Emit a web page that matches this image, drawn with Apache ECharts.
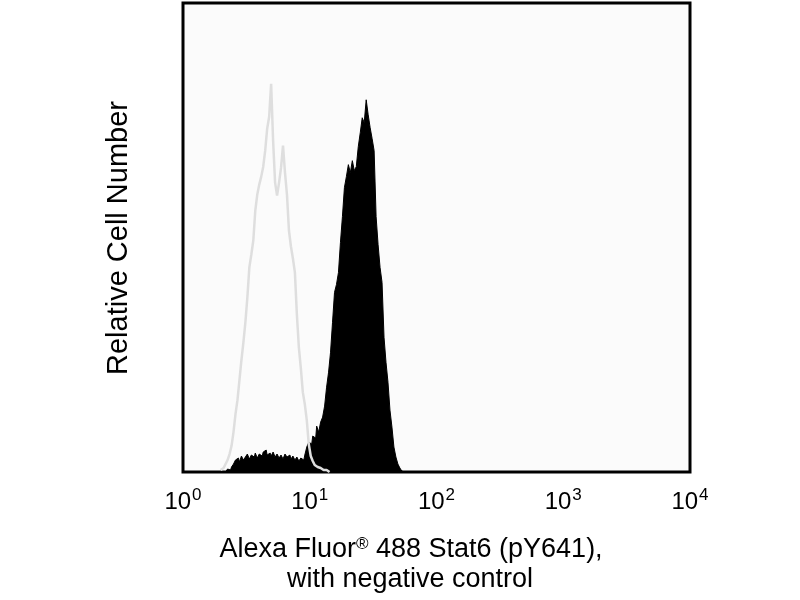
<!DOCTYPE html>
<html>
<head>
<meta charset="utf-8">
<script src="https://cdn.jsdelivr.net/npm/echarts@6/dist/echarts.min.js"></script>
<style>html,body{margin:0;padding:0;background:#fff}#c{width:800px;height:600px}</style>
</head>
<body>
<div id="c"></div>
<script>
// Histogram channels: 64 channels per decade, channel c -> 10^(c/64)
const channelsPerDecade = 64;
// Stained sample (black filled), counts starting at channel 20
const stainedStart = 20;
const stainedCounts = [0,0,2,3,2,5,8,12,14,10,16,12,15,18,13,17,15,19,14,18,16,20,22,17,19,16,20,15,18,14,17,13,18,15,17,13,16,12,15,11,14,12,17,25,30,28,36,34,46,40,50,55,66,85,100,120,150,180,188,200,230,256,285,296,308,300,312,302,306,326,340,355,350,373,358,345,334,322,256,228,205,190,135,110,90,62,45,25,15,8,4,1,0];
// Negative control (grey outline), counts starting at channel 19
const controlStart = 19;
const controlCounts = [2,4,5,8,12,18,26,40,58,72,92,112,130,150,175,205,218,232,262,278,288,296,306,322,344,356,389,332,290,277,290,305,327,300,278,242,226,214,200,158,125,104,80,68,52,28,16,11,7,5,4,3,2,2,1,0];
const tickExponents = [0,1,2,3,4];
const xTitleLine1 = 'Alexa Fluor';
const xTitleReg = '®';
const xTitleLine1b = ' 488 Stat6 (pY641),';
const xTitleLine2 = 'with negative control';
const yTitle = 'Relative Cell Number';

function toPoints(start, counts) {
  return counts.map((v, i) => [Math.pow(10, (start + i) / channelsPerDecade), v]);
}

const FONT = '"Liberation Sans", Arial, Helvetica, sans-serif';
const chart = echarts.init(document.getElementById('c'), null, {renderer: 'canvas'});
chart.setOption({
  animation: false,
  backgroundColor: '#ffffff',
  grid: {left: 183, right: 110, top: 3, bottom: 128, show: true, borderColor: '#000', borderWidth: 3, backgroundColor: '#fbfbfb'},
  xAxis: {
    type: 'log', logBase: 10,
    min: Math.pow(10, tickExponents[0]), max: Math.pow(10, tickExponents[tickExponents.length - 1]),
    axisLine: {show: false}, axisTick: {show: false}, splitLine: {show: false}, minorTick: {show: false},
    axisLabel: {
      margin: 15,
      fontFamily: FONT, color: '#000',
      formatter: function (v) { const e = Math.round(Math.log10(v)); return '{b|10}{s|' + e + '}'; },
      rich: {
        b: {fontSize: 24, fontFamily: FONT, color: '#000'},
        s: {fontSize: 17, fontFamily: FONT, color: '#000', padding: [0, 0, 13, 1]}
      }
    }
  },
  yAxis: {
    type: 'value', min: 0, max: 470,
    axisLine: {show: false}, axisTick: {show: false}, splitLine: {show: false}, axisLabel: {show: false}
  },
  series: [
    {
      name: 'stained', type: 'line', step: 'middle', symbol: 'none',
      data: toPoints(stainedStart, stainedCounts),
      lineStyle: {color: '#000', width: 1},
      areaStyle: {color: '#000', opacity: 1},
      z: 2
    },
    {
      name: 'control', type: 'line', step: 'middle', symbol: 'none',
      data: toPoints(controlStart, controlCounts),
      lineStyle: {color: '#dedede', width: 2.5},
      z: 3
    }
  ],
  graphic: [
    {
      type: 'text', x: 411, y: 550,
      style: {
        text: '{n|' + xTitleLine1 + '}{r|' + xTitleReg + '}{n|' + xTitleLine1b + '}',
        align: 'center', verticalAlign: 'middle',
        rich: {
          n: {fontSize: 27, fontFamily: FONT, fill: '#000'},
          r: {fontSize: 17, fontFamily: FONT, fill: '#000', padding: [0, 0, 12, 0]}
        }
      }
    },
    {
      type: 'text', x: 410, y: 580,
      style: {text: xTitleLine2, align: 'center', verticalAlign: 'middle', fontSize: 27, fontFamily: FONT, fill: '#000'}
    },
    {
      type: 'text', x: 119, y: 238, rotation: Math.PI / 2,
      style: {text: yTitle, align: 'center', verticalAlign: 'middle', fontSize: 29, fontFamily: FONT, fill: '#000'}
    }
  ]
});
</script>
</body>
</html>
